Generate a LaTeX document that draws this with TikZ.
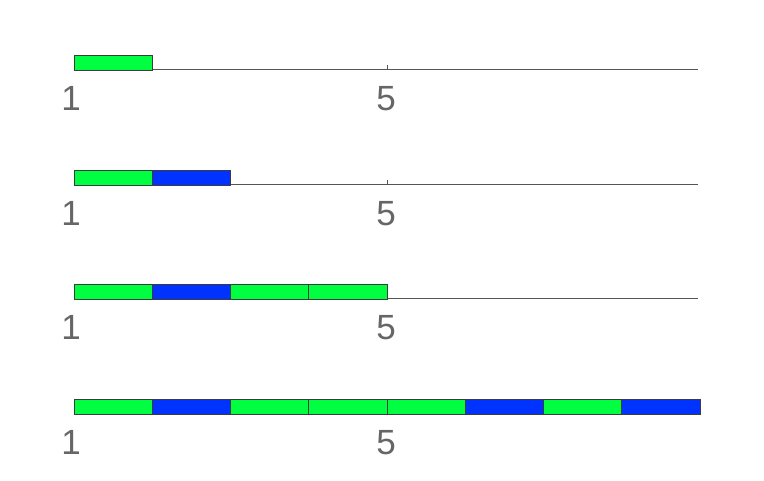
\documentclass[tikz,border=0pt]{standalone}
\usepackage{fontspec}
\setmainfont{Liberation Sans}
\definecolor{bg}{RGB}{0,255,64}
\definecolor{bb}{RGB}{0,51,255}
\definecolor{axg}{RGB}{85,85,85}
\definecolor{lbl}{RGB}{102,102,102}
\begin{document}
\begin{tikzpicture}[x=1pt,y=-1pt,
  axline/.style={draw=axg,line width=0.8pt},
  gbar/.style={draw=axg!70!black,fill=bg,line width=0.9pt},
  bbar/.style={draw=axg!70!black,fill=bb,line width=0.9pt},
  ticklbl/.style={text=lbl,font=\fontsize{35}{35}\selectfont,inner sep=0pt,anchor=base}]
\useasboundingbox (0,0) rectangle (764,480);
\def\u{78.25}
\foreach \r/\yy/\seq in {1/69/{g},2/184/{g,b},3/298/{g,b,g,g},4/413/{g,b,g,g,g,b,g,b}}{
  \coordinate (axl\r) at (74,\yy);
  \coordinate (axr\r) at (698,\yy);
  \draw[axline] (axl\r) -- (axr\r);
  \draw[axline] (74,\yy) -- ++(0,-4);
  \draw[axline] (387,\yy) -- ++(0,-4);
  \node[ticklbl] (one\r) at (71,\yy+41) {1};
  \node[ticklbl] (five\r) at (386,\yy+41) {5};
  \foreach \c [count=\i from 0] in \seq {
    \pgfmathsetmacro{\xa}{74+\i*\u}
    \pgfmathsetmacro{\xb}{74+(\i+1)*\u}
    \draw[\c bar] (\xa,\yy-14) rectangle (\xb,\yy+1);
  }
}
\end{tikzpicture}
\end{document}
